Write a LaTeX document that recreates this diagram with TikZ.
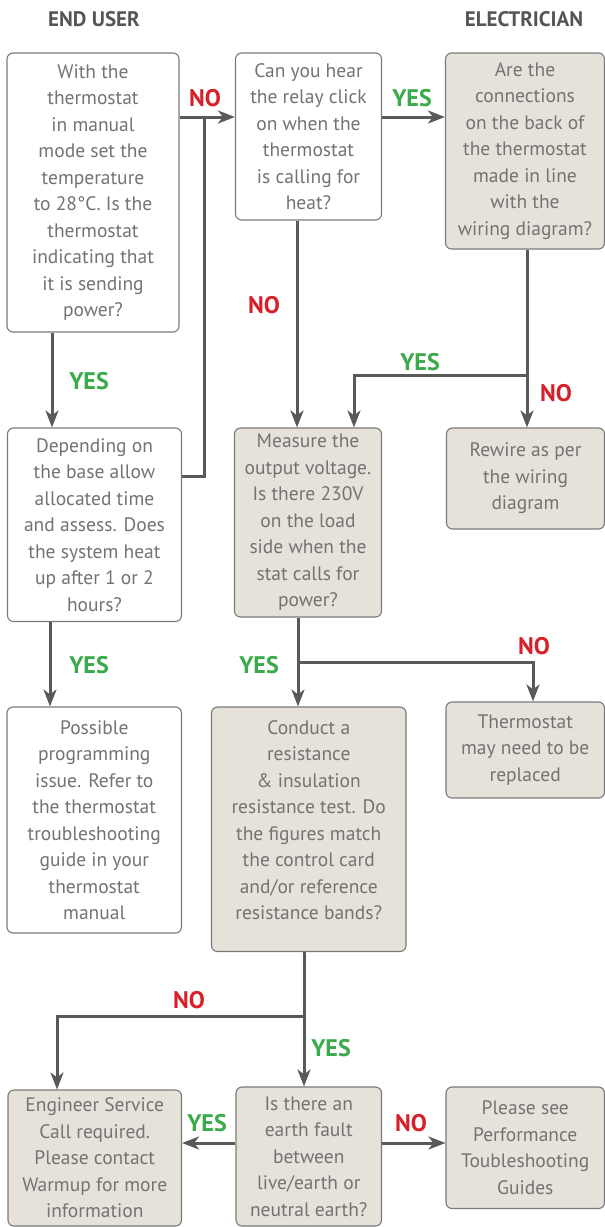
\documentclass[tikz,border=0pt]{standalone}
\usepackage{fontspec}
\setmainfont{PT Sans}
\usetikzlibrary{arrows.meta}
\definecolor{txtgray}{HTML}{737373}
\definecolor{linegray}{HTML}{595959}
\definecolor{boxborder}{HTML}{7A7A7A}
\definecolor{beige}{HTML}{E6E2DA}
\definecolor{nored}{HTML}{D7202A}
\definecolor{yesgreen}{HTML}{3BAA4A}
\definecolor{headgray}{HTML}{555555}
\tikzset{
  box/.style={draw=boxborder, line width=1.1pt, rounded corners=6pt, inner sep=0pt,
    align=center, text=txtgray, font=\fontsize{19.5}{26.5}\selectfont},
  userbox/.style={box, fill=white},
  elecbox/.style={box, fill=beige},
  conn/.style={draw=linegray, line width=3pt},
  arr/.style={conn, -{Stealth[length=17pt,width=13pt,inset=5pt]}},
  nolab/.style={text=nored, font=\fontsize{24}{28}\selectfont\bfseries},
  yeslab/.style={text=yesgreen, font=\fontsize{24}{28}\selectfont\bfseries},
  head/.style={text=headgray, font=\fontsize{21}{24}\selectfont\bfseries},
}
\begin{document}
\begin{tikzpicture}[x=1pt,y=-1pt]
\useasboundingbox (0,0) rectangle (605,1227);
% headers
\node[head] (hUser) at (94,19) {END USER};
\node[head] (hElec) at (524,19) {ELECTRICIAN};
% boxes
\node[userbox, minimum width=172pt, minimum height=279pt] (A) at (93,192.5)
  {With the\\thermostat\\in manual\\mode set the\\temperature\\to 28°C. Is the\\thermostat\\indicating that\\it is sending\\power?};
\node[userbox, minimum width=146pt, minimum height=167pt] (B) at (308.5,136.5)
  {Can you hear\\the relay click\\on when the\\thermostat\\is calling for\\heat?};
\node[elecbox, minimum width=159pt, minimum height=196pt] (C) at (525,151)
  {Are the\\connections\\on the back of\\the thermostat\\made in line\\with the\\wiring diagram?};
\node[userbox, minimum width=174pt, minimum height=193.5pt] (D) at (94.5,524.75)
  {Depending on\\the base allow\\allocated time\\and assess. Does\\the system heat\\up after 1 or 2\\hours?};
\node[elecbox, minimum width=147pt, minimum height=189pt] (E) at (308,522.5)
  {Measure the\\output voltage.\\Is there 230V\\on the load\\side when the\\stat calls for\\power?};
\node[elecbox, minimum width=158pt, minimum height=101pt] (F) at (525.5,478.5)
  {Rewire as per\\the wiring\\diagram};
\node[userbox, minimum width=174.5pt, minimum height=226pt] (G) at (94.25,820)
  {Possible\\programming\\issue. Refer to\\the thermostat\\troubleshooting\\guide in your\\thermostat\\manual};
\node[elecbox, minimum width=194.5pt, minimum height=244.5pt] (H) at (308.75,829.25) {};
\node[text=txtgray, align=center, font=\fontsize{19.5}{26.5}\selectfont] (Ht) at (308.75,820)
  {Conduct a\\resistance\\\& insulation\\resistance test. Do\\the figures match\\the control card\\and/or reference\\resistance bands?};
\node[elecbox, minimum width=158.5pt, minimum height=96pt] (I) at (525.25,750)
  {Thermostat\\may need to be\\replaced};
\node[elecbox, minimum width=173.5pt, minimum height=136pt] (J) at (94.75,1158)
  {Engineer Service\\Call required.\\Please contact\\Warmup for more\\information};
\node[elecbox, minimum width=145.5pt, minimum height=139pt] (K) at (308.75,1156.5)
  {Is there an\\earth fault\\between\\live/earth or\\neutral earth?};
\node[elecbox, minimum width=158.5pt, minimum height=121.5pt] (L) at (525.25,1147.75)
  {Please see\\Performance\\Toubleshooting\\Guides};
% helper coordinates
\coordinate (y117) at (0,117);
\coordinate (y476) at (0,476);
\coordinate (jAB) at (204,117);
\coordinate (x52) at (52,0);
\coordinate (x50) at (50,0);
\coordinate (x297) at (297,0);
\coordinate (x527) at (527,0);
\coordinate (jC) at (527,375);
\coordinate (x354) at (354,0);
\coordinate (jE) at (298,662);
\coordinate (x533) at (533,0);
\coordinate (jH) at (304,1016);
\coordinate (x57) at (57,0);
\coordinate (y1143) at (0,1143);
% connectors
\draw[arr] (A.east |- y117) -- (B.west |- y117);
\draw[conn] (D.east |- y476) -| (jAB);
\draw[arr] (A.south -| x52) -- (D.north -| x52);
\draw[arr] (B.east |- y117) -- (C.west |- y117);
\draw[arr] (B.south -| x297) -- (E.north -| x297);
\draw[arr] (C.south -| x527) -- (F.north -| x527);
\draw[arr] (jC) -| (E.north -| x354);
\draw[arr] (D.south -| x50) -- (G.north -| x50);
\draw[arr] (E.south -| jE) -- (H.north -| jE);
\draw[arr] (jE) -| (I.north -| x533);
\draw[arr] (H.south -| jH) -- (K.north -| jH);
\draw[arr] (jH) -| (J.north -| x57);
\draw[arr] (K.west |- y1143) -- (J.east |- y1143);
\draw[arr] (K.east |- y1143) -- (L.west |- y1143);
% labels
\node[nolab] (l1) at (205,98) {NO};
\node[yeslab] (l2) at (89,381) {YES};
\node[yeslab] (l3) at (412,98) {YES};
\node[nolab] (l4) at (264,305) {NO};
\node[yeslab] (l5) at (420,362) {YES};
\node[nolab] (l6) at (556,393) {NO};
\node[yeslab] (l7) at (89,665) {YES};
\node[yeslab] (l8) at (259,665) {YES};
\node[nolab] (l9) at (534,646) {NO};
\node[nolab] (l10) at (189,1000) {NO};
\node[yeslab] (l11) at (331,1048) {YES};
\node[yeslab] (l12) at (207,1123) {YES};
\node[nolab] (l13) at (411,1123) {NO};
\end{tikzpicture}
\end{document}
